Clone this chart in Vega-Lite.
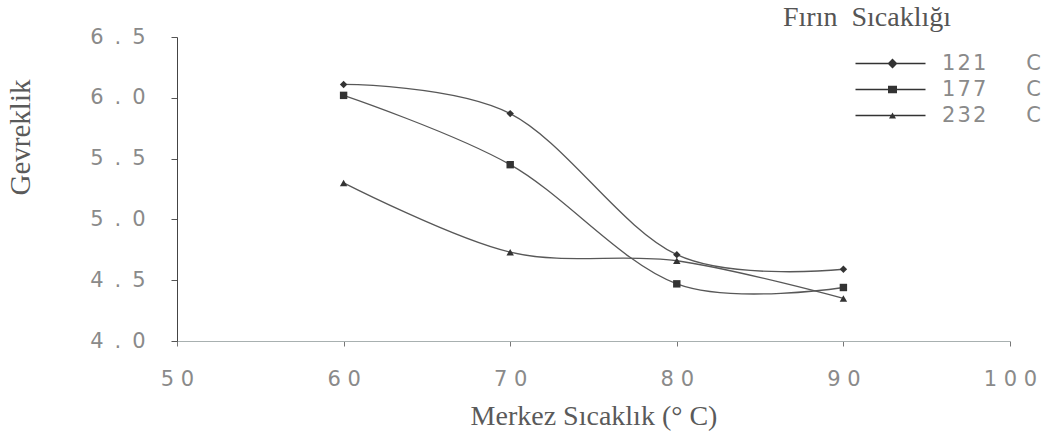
{
  "$schema": "https://vega.github.io/schema/vega-lite/v6.json",
  "width": 833,
  "height": 304,
  "autosize": {"type": "none"},
  "padding": {"left": 177, "top": 37, "right": 49, "bottom": 100},
  "background": "white",
  "config": {
    "view": {"stroke": null},
    "axis": {"grid": false, "labelFont": "DejaVu Sans", "labelFontSize": 21, "labelColor": "#8a8a8a", "titleFont": "Liberation Serif", "titleFontSize": 28, "titleFontWeight": "normal", "titleColor": "#5a5a5a"}
  },
  "data": {
    "values": [
      {"x": 60, "y": 6.11, "s": "121"},
      {"x": 70, "y": 5.87, "s": "121"},
      {"x": 80, "y": 4.71, "s": "121"},
      {"x": 90, "y": 4.59, "s": "121"},
      {"x": 60, "y": 6.02, "s": "177"},
      {"x": 70, "y": 5.45, "s": "177"},
      {"x": 80, "y": 4.47, "s": "177"},
      {"x": 90, "y": 4.44, "s": "177"},
      {"x": 60, "y": 5.30, "s": "232"},
      {"x": 70, "y": 4.73, "s": "232"},
      {"x": 80, "y": 4.66, "s": "232"},
      {"x": 90, "y": 4.35, "s": "232"}
    ]
  },
  "encoding": {
    "x": {"field": "x", "type": "quantitative", "scale": {"domain": [50, 100], "nice": false, "zero": false},
      "axis": {"values": [50, 60, 70, 80, 90, 100], "labelFlush": false, "labelExpr": "join(split(datum.label, ''), '\u00a0')", "title": "Merkez Sıcaklık (° C)", "titlePadding": 13, "domainColor": "#a8b0b0", "tickColor": "#777777", "tickSize": 5, "labelPadding": 22}},
    "y": {"field": "y", "type": "quantitative", "scale": {"domain": [4.0, 6.5], "nice": false, "zero": false},
      "axis": {"values": [4.0, 4.5, 5.0, 5.5, 6.0, 6.5], "format": ".1f", "labelExpr": "replace(datum.label, '.', '\u00a0\u2009.\u00a0\u2009')", "title": "Gevreklik", "titleFontSize": 29, "titleX": -142, "titleY": 100, "domainColor": "#444444", "tickColor": "#555555", "tickSize": 6, "labelPadding": 26}}
  },
  "layer": [
    {
      "mark": {"type": "line", "interpolate": "cardinal", "color": "#585858", "strokeWidth": 1.3},
      "encoding": {"detail": {"field": "s"}}
    },
    {
      "mark": {"type": "point", "filled": true, "color": "#333333", "opacity": 1},
      "encoding": {
        "shape": {"condition": [{"test": "datum.s == '121'", "value": "diamond"}, {"test": "datum.s == '177'", "value": "square"}], "value": "triangle-up"},
        "size": {"value": 55}
      }
    },
    {
      "mark": {"type": "point", "filled": true, "color": "#333333", "opacity": 0},
      "encoding": {
        "shape": {"field": "s", "type": "nominal",
          "scale": {"domain": ["121", "177", "232"], "range": [
            "M12.4,-0.13L26.4,-0.13L26.4,0.13L12.4,0.13ZM19.8,-1L20.8,0L19.8,1L18.8,0Z",
            "M12.4,-0.13L26.4,-0.13L26.4,0.13L12.4,0.13ZM18.9,-0.75L20.7,-0.75L20.7,0.75L18.9,0.75Z",
            "M12.4,-0.13L26.4,-0.13L26.4,0.13L12.4,0.13ZM19.1,0.6L19.8,-0.6L20.5,0.6Z"]},
          "legend": {
            "title": "Fırın\u00a0\u00a0Sıcaklığı", "orient": "none", "legendX": 606, "legendY": -33,
            "titleFont": "Liberation Serif", "titleFontSize": 28, "titleFontWeight": "normal", "titleColor": "#555555", "titlePadding": 21,
            "labelFont": "DejaVu Sans", "labelFontSize": 21, "labelColor": "#8a8a8a", "labelOffset": 138,
            "labelExpr": "join(split(datum.label, ''), '\u200a') + '\u00a0\u00a0\u00a0\u00a0\u00a0\u00a0C'",
            "symbolSize": 100, "symbolOpacity": 1, "symbolFillColor": "#3a3a3a", "symbolStrokeColor": "#4a4a4a", "symbolStrokeWidth": 0, "rowPadding": 4
          }},
        "size": {"value": 55}
      }
    }
  ]
}
